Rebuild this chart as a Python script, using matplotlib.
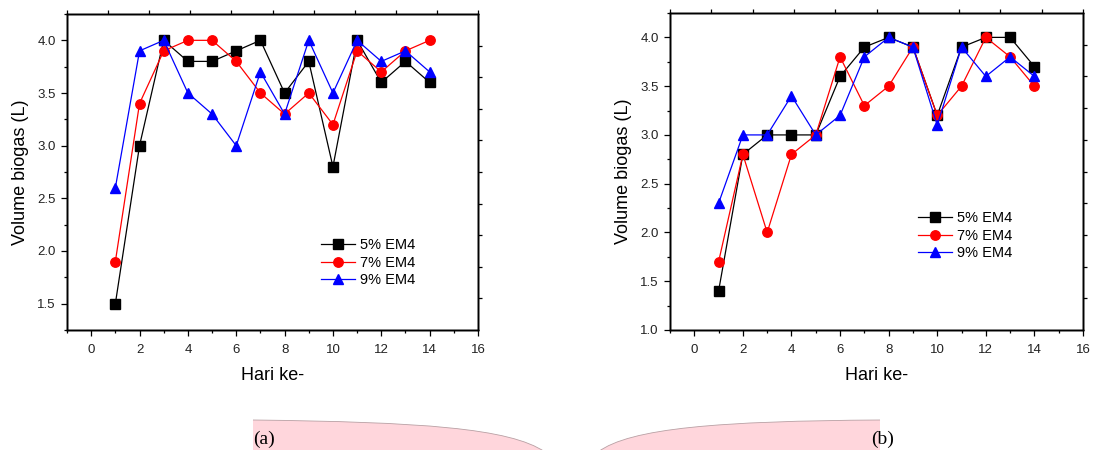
import matplotlib
matplotlib.use("Agg")
import matplotlib.pyplot as plt
import numpy as np
from matplotlib.path import Path
from matplotlib.patches import PathPatch
from matplotlib.transforms import Affine2D
from matplotlib.ticker import MultipleLocator

plt.rcParams['font.family'] = ['Liberation Sans', 'DejaVu Sans']

hari = list(range(1, 15))
labels = ["5% EM4", "7% EM4", "9% EM4"]

# panel (a)
a_5 = [1.5, 3.0, 4.0, 3.8, 3.8, 3.9, 4.0, 3.5, 3.8, 2.8, 4.0, 3.6, 3.8, 3.6]
a_7 = [1.9, 3.4, 3.9, 4.0, 4.0, 3.8, 3.5, 3.3, 3.5, 3.2, 3.9, 3.7, 3.9, 4.0]
a_9 = [2.6, 3.9, 4.0, 3.5, 3.3, 3.0, 3.7, 3.3, 4.0, 3.5, 4.0, 3.8, 3.9, 3.7]

# panel (b)
b_5 = [1.4, 2.8, 3.0, 3.0, 3.0, 3.6, 3.9, 4.0, 3.9, 3.2, 3.9, 4.0, 4.0, 3.7]
b_7 = [1.7, 2.8, 2.0, 2.8, 3.0, 3.8, 3.3, 3.5, 3.9, 3.2, 3.5, 4.0, 3.8, 3.5]
b_9 = [2.3, 3.0, 3.0, 3.4, 3.0, 3.2, 3.8, 4.0, 3.9, 3.1, 3.9, 3.6, 3.8, 3.6]

W, H = 1093, 450
fig = plt.figure(figsize=(W / 100, H / 100), dpi=100)


def px_axes(x0, x1, y0, y1):
    # pixel box (top-left origin) -> figure axes
    return fig.add_axes([x0 / W, 1 - y1 / H, (x1 - x0) / W, (y1 - y0) / H])


def panel(ax, series, ylim, legend_anchor):
    styles = [('black', 's'), ('red', 'o'), ('blue', '^')]
    for vals, (col, mk), lab in zip(series, styles, labels):
        ms = 7.5 if mk == '^' else 6.8
        ax.plot(hari, vals, color=col, marker=mk, markersize=ms, lw=0.9,
                markeredgecolor=col, label=lab)
    ax.set_xlim(-1, 16)
    ax.set_ylim(*ylim)
    ax.xaxis.set_major_locator(MultipleLocator(2))
    ax.xaxis.set_minor_locator(MultipleLocator(1))
    ax.yaxis.set_major_locator(MultipleLocator(0.5))
    ax.yaxis.set_minor_locator(MultipleLocator(0.25))
    ax.yaxis.set_major_formatter(matplotlib.ticker.FormatStrFormatter('%.1f'))
    ax.tick_params(which='major', direction='out', length=4, width=0.9,
                   labelsize=9.5, colors='black', labelcolor='#222222', pad=4)
    ax.tick_params(axis='x', which='major', pad=6)
    ax.tick_params(which='minor', direction='out', length=2.5, width=0.9)
    ax.set_xlabel("Hari ke-", fontsize=13, labelpad=8)
    ax.set_ylabel("Volume biogas (L)", fontsize=13, labelpad=6)
    for s in ax.spines.values():
        s.set_linewidth(1.0)
    ax.legend(frameon=False, fontsize=10.5, loc='upper left',
              bbox_to_anchor=legend_anchor, bbox_transform=fig.transFigure,
              handlelength=2.3, handletextpad=0.4, labelspacing=0.25,
              borderpad=0, borderaxespad=0)
    # unlabelled ticks on the opposite spines
    tx = ax.twinx()
    tx.set_ylim(0, 10)
    tx.set_yticks(range(1, 10))
    tx.tick_params(direction='out', length=3, width=0.9, labelright=False)
    ty = ax.twiny()
    ty.set_xlim(0, 10)
    ty.set_xticks(range(0, 11))
    ty.tick_params(direction='out', length=3, width=0.9, labeltop=False)
    for t in (tx, ty):
        for s in t.spines.values():
            s.set_linewidth(1.0)


ax1 = px_axes(67, 478, 14, 330)
panel(ax1, [a_5, a_7, a_9], (1.25, 4.25), (321 / W, 1 - 238 / H))

ax2 = px_axes(670, 1083, 13, 330)
panel(ax2, [b_5, b_7, b_9], (1.0, 4.25), (918 / W, 1 - 211 / H))

# pink caption shapes at the bottom
pix = Affine2D().scale(1 / W, -1 / H).translate(0, 1) + fig.transFigure
pink = '#ffd6dc'
left_verts = [(253, 452), (253, 420), (420, 422), (510, 428), (545, 452), (253, 452)]
shape_codes = [Path.MOVETO, Path.LINETO, Path.CURVE4, Path.CURVE4, Path.CURVE4, Path.CLOSEPOLY]
right_verts = [(880, 452), (880, 420), (720, 421), (630, 428), (598, 452), (880, 452)]
edge_codes = [Path.MOVETO, Path.CURVE4, Path.CURVE4, Path.CURVE4]
for verts in (left_verts, right_verts):
    fig.patches.append(PathPatch(Path(verts, shape_codes), transform=pix,
                                 facecolor=pink, edgecolor='none', figure=fig))
    fig.patches.append(PathPatch(Path(verts[1:5], edge_codes), transform=pix,
                                 facecolor='none', edgecolor='#b8a0a4', lw=0.6,
                                 figure=fig))

fig.text(253 / W, 1 - 439 / H, "(a)", family='Liberation Serif', fontsize=14,
         ha='left', va='center')
fig.text(894 / W, 1 - 439 / H, "(b)", family='Liberation Serif', fontsize=14,
         ha='right', va='center')

fig.savefig("out.png", dpi=100)
